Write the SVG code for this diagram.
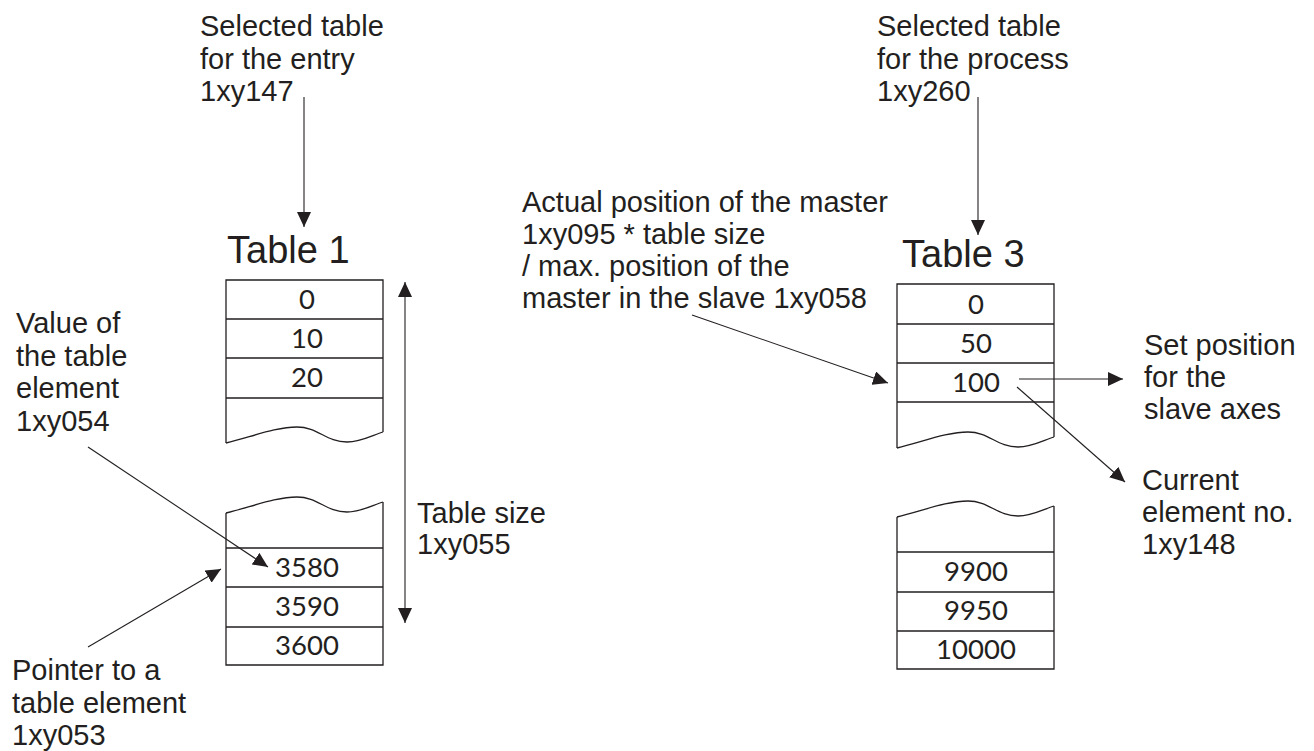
<svg xmlns="http://www.w3.org/2000/svg" width="1314" height="751" viewBox="0 0 1314 751">
<defs>
<style>
.lbl{font-family:"Liberation Sans",Arial,sans-serif;font-size:29px;fill:#231f20}
.ttl{font-family:"Liberation Sans",Arial,sans-serif;font-size:38px;fill:#231f20}
.num{font-family:Lato,"DejaVu Sans",sans-serif;font-weight:400;font-size:27.5px;fill:#231f20;text-anchor:middle}
.box{fill:none;stroke:#231f20;stroke-width:1.3}
.con{fill:none;stroke:#231f20;stroke-width:1.1}
</style>
<marker id="ah" viewBox="0 0 15 14" refX="15" refY="7" markerWidth="15" markerHeight="14" markerUnits="userSpaceOnUse" orient="auto-start-reverse">
<path d="M0,0 L15,7 L0,14 z" fill="#231f20"/>
</marker>
<path id="wave" d="M0,0 C25,-6 50,-16 71,-16 C92,-16 100,-1 121,-1 C135,-1 147,-8 157,-11"/>
</defs>

<g id="label-entry">
<text class="lbl" x="200" y="36">Selected table</text>
<text class="lbl" x="200" y="68.5">for the entry</text>
<text class="lbl" x="200" y="101">1xy147</text>
</g>

<g id="label-process">
<text class="lbl" x="877" y="36">Selected table</text>
<text class="lbl" x="877" y="68.5">for the process</text>
<text class="lbl" x="877" y="101">1xy260</text>
</g>

<g id="table1-upper">
<text class="ttl" x="227" y="263">Table 1</text>
<path class="box" d="M226,443 V280 H383 V432 M226,319 H383 M226,358 H383 M226,398 H383"/>
<use href="#wave" class="box" transform="translate(226,443)"/>
<text class="num" x="307" y="309">0</text>
<text class="num" x="307" y="348">10</text>
<text class="num" x="307" y="387">20</text>
</g>

<g id="table1-lower">
<use href="#wave" class="box" transform="translate(226,513)"/>
<path class="box" d="M226,513 V665 H383 V502 M226,548 H383 M226,587 H383 M226,627 H383"/>
<text class="num" x="307" y="577">3580</text>
<text class="num" x="307" y="616">3590</text>
<text class="num" x="307" y="655">3600</text>
</g>

<g id="table3-upper">
<text class="ttl" x="902" y="267">Table 3</text>
<path class="box" d="M897,448 V284 H1054 V437 M897,324 H1054 M897,363 H1054 M897,402 H1054"/>
<use href="#wave" class="box" transform="translate(897,448)"/>
<text class="num" x="976" y="314">0</text>
<text class="num" x="976" y="353">50</text>
<text class="num" x="976" y="392">100</text>
</g>

<g id="table3-lower">
<use href="#wave" class="box" transform="translate(897,517)"/>
<path class="box" d="M897,517 V669 H1054 V506 M897,552 H1054 M897,592 H1054 M897,631 H1054"/>
<text class="num" x="976" y="581">9900</text>
<text class="num" x="976" y="620">9950</text>
<text class="num" x="976" y="659">10000</text>
</g>

<g id="label-value">
<text class="lbl" x="16" y="333">Value of</text>
<text class="lbl" x="16" y="365.5">the table</text>
<text class="lbl" x="16" y="398">element</text>
<text class="lbl" x="16" y="431">1xy054</text>
</g>

<g id="label-pointer">
<text class="lbl" x="12" y="680">Pointer to a</text>
<text class="lbl" x="12" y="712.5">table element</text>
<text class="lbl" x="12" y="745">1xy053</text>
</g>

<g id="label-size">
<text class="lbl" x="417" y="523">Table size</text>
<text class="lbl" x="417" y="554">1xy055</text>
</g>

<g id="label-actual">
<text class="lbl" x="522" y="212">Actual position of the master</text>
<text class="lbl" x="522" y="244">1xy095 * table size</text>
<text class="lbl" x="522" y="276">/ max. position of the</text>
<text class="lbl" x="522" y="308">master in the slave 1xy058</text>
</g>

<g id="label-set">
<text class="lbl" x="1144" y="355">Set position</text>
<text class="lbl" x="1144" y="387">for the</text>
<text class="lbl" x="1144" y="419">slave axes</text>
</g>

<g id="label-current">
<text class="lbl" x="1142" y="490">Current</text>
<text class="lbl" x="1142" y="522">element no.</text>
<text class="lbl" x="1142" y="554">1xy148</text>
</g>

<g id="connectors">
<line class="con" x1="304" y1="97" x2="304" y2="227" marker-end="url(#ah)"/>
<line class="con" x1="978" y1="97" x2="978" y2="235" marker-end="url(#ah)"/>
<line class="con" x1="405" y1="282" x2="405" y2="623" marker-start="url(#ah)" marker-end="url(#ah)"/>
<line class="con" x1="88" y1="447" x2="268" y2="567" marker-end="url(#ah)"/>
<line class="con" x1="88" y1="647" x2="221" y2="569" marker-end="url(#ah)"/>
<line class="con" x1="692" y1="315" x2="888" y2="383" marker-end="url(#ah)"/>
<line class="con" x1="1019" y1="379" x2="1123" y2="379" marker-end="url(#ah)"/>
<line class="con" x1="1017" y1="387" x2="1125" y2="482" marker-end="url(#ah)"/>
</g>
</svg>
